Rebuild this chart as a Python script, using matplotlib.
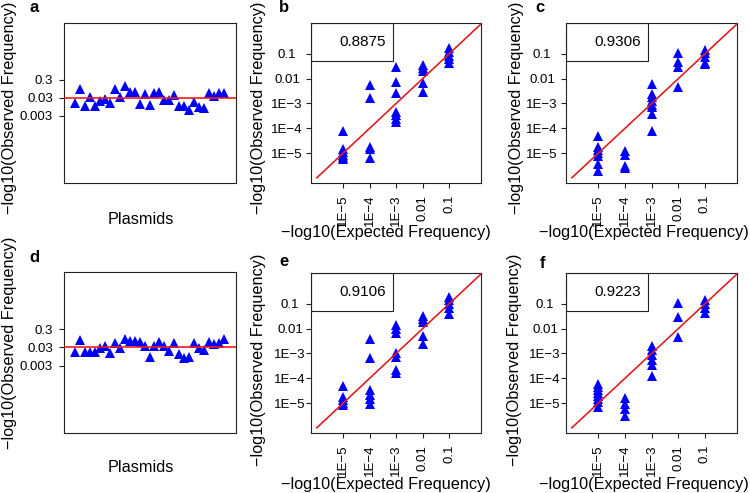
import matplotlib
matplotlib.use("Agg")
import matplotlib.pyplot as plt
from matplotlib.patches import Rectangle
from matplotlib.ticker import NullLocator

plt.rcParams['font.family'] = ['Liberation Sans', 'DejaVu Sans']

MINUS = "\u2212"

# panels a / d: observed frequency per plasmid, expected 0.03
plasmid_expected = 0.03
a_obs = [0.0158, 0.095, 0.0103, 0.034, 0.0103, 0.0196, 0.0275, 0.0158, 0.095, 0.034,
         0.133, 0.065, 0.065, 0.0139, 0.052, 0.0128, 0.057, 0.062, 0.0223, 0.0223,
         0.042, 0.0103, 0.0103, 0.0062, 0.0172, 0.0095, 0.0083, 0.057, 0.037, 0.057, 0.057]
d_obs = [0.0158, 0.080, 0.0158, 0.0158, 0.0158, 0.0275, 0.037, 0.0145, 0.050, 0.0264,
         0.087, 0.070, 0.065, 0.057, 0.037, 0.0091, 0.037, 0.057, 0.034, 0.0196,
         0.050, 0.0128, 0.0074, 0.0083, 0.050, 0.0275, 0.0213, 0.057, 0.046, 0.050, 0.087]
plasmid_ticks = [0.3, 0.03, 0.003]
plasmid_ticklabels = ["0.3", "0.03", "0.003"]

# panels b, c, e, f: observed frequency at each expected level
expected_levels = [1e-5, 1e-4, 1e-3, 0.01, 0.1]
level_labels = ["1E" + MINUS + "5", "1E" + MINUS + "4", "1E" + MINUS + "3", "0.01", "0.1"]
b_obs = [[8e-5, 1.4e-5, 1.1e-5, 8.5e-6, 7e-6, 5.6e-6],
         [5.5e-3, 1.6e-3, 1.8e-5, 1.4e-5, 6.5e-6],
         [0.031, 7.6e-3, 2.6e-3, 4.5e-4, 3.3e-4, 2.4e-4, 1.8e-4],
         [0.036, 0.027, 0.02, 6.5e-3, 3e-3],
         [0.17, 0.12, 0.085, 0.06, 0.042]]
c_obs = [[4.8e-5, 1.8e-5, 1.35e-5, 1.0e-5, 7.5e-6, 3.5e-6, 1.9e-6],
         [1.2e-5, 8.5e-6, 3.0e-6, 2.4e-6],
         [6e-3, 2.4e-3, 1.8e-3, 1.3e-3, 9e-4, 7e-4, 3.8e-4, 8e-5],
         [0.11, 0.048, 0.03, 4.8e-3],
         [0.15, 0.11, 0.075, 0.045, 0.04]]
e_obs = [[5e-5, 1.8e-5, 1.3e-5, 1.0e-5, 8e-6],
         [4e-3, 6.3e-4, 3.3e-5, 2.1e-5, 1.4e-5, 9e-6],
         [0.014, 0.0095, 0.0065, 1.0e-3, 7.5e-4, 2.1e-4, 1.7e-4],
         [0.033, 0.024, 0.019, 5e-3, 2.4e-3],
         [0.2, 0.15, 0.1, 0.068, 0.04]]
f_obs = [[6e-5, 4.5e-5, 3.4e-5, 2.6e-5, 2e-5, 1.5e-5, 1.1e-5, 7e-6],
         [1.6e-5, 9e-6, 5.5e-6, 3e-6],
         [2e-3, 1.4e-3, 8.7e-4, 5.4e-4, 3.4e-4, 1.2e-4],
         [0.11, 0.03, 4.5e-3],
         [0.14, 0.1, 0.07, 0.045]]
corr_values = ["0.8875", "0.9306", "0.9106", "0.9223"]

W, H = 750, 493
fig = plt.figure(figsize=(W / 100, H / 100), dpi=100)

def add_box(x0, y0, x1, y1):
    return fig.add_axes([x0 / W, 1 - y1 / H, (x1 - x0) / W, (y1 - y0) / H])

def style(ax):
    for s in ax.spines.values():
        s.set_linewidth(0.8)
        s.set_color("#222222")
    ax.tick_params(direction="out", length=3.6, width=0.8, labelsize=9.5, color="#222222")
    ax.yaxis.set_minor_locator(NullLocator())
    ax.xaxis.set_minor_locator(NullLocator())

def label_text(ax, box, cx, cy, txt, rot=0):
    x0, y0, x1, y1 = box
    ax.text((cx - x0) / (x1 - x0), (y1 - cy) / (y1 - y0), txt, transform=ax.transAxes,
            ha="center", va="center", rotation=rot, fontsize=11.7)

ylab = MINUS + "log10(Observed Frequency)"
xlab = MINUS + "log10(Expected Frequency)"

# plasmid panels
plasmid_panels = [
    ("a", a_obs, (64, 23, 236, 183), (29, 7), 10, 108, 141, 219),
    ("d", d_obs, (64, 272, 236, 433), (29, 257), 10, 343, 141, 468),
]
for letter, obs, box, lpos, ylx, yly, xlx, xly in plasmid_panels:
    ax = add_box(*box)
    style(ax)
    xs = list(range(1, len(obs) + 1))
    ax.plot(xs, obs, linestyle="none", marker="^", ms=7.2, mew=0, color="blue", zorder=2)
    ax.axhline(plasmid_expected, color="#ee1c1c", lw=1.2, zorder=3)
    ax.set_yscale("log")
    ax.set_ylim(10 ** -6.25, 10 ** 2.64)
    ax.set_xlim(-1.2, len(obs) + 2.4)
    ax.set_yticks(plasmid_ticks)
    ax.set_yticklabels(plasmid_ticklabels)
    ax.yaxis.set_minor_locator(NullLocator())
    ax.set_xticks([])
    ax.tick_params(axis="y", pad=4.3)
    label_text(ax, box, ylx, yly, ylab, rot=90)
    label_text(ax, box, xlx, xly, "Plasmids")
    fig.text(lpos[0] / W, 1 - lpos[1] / H, letter, fontsize=12, fontweight="bold",
             ha="left", va="center")

# expected vs observed panels
# (letter, data, r value, box px, letter px, ylabel x/y px, xlabel x/y px, y tick label centre offset px)
scatter_panels = [
    ("b", b_obs, corr_values[0], (311, 23, 481, 183), (279, 8), 259, 108, 386, 232, 24),
    ("c", c_obs, corr_values[1], (566, 23, 737, 183), (535, 8), 517, 108, 644, 232, 24),
    ("e", e_obs, corr_values[2], (311, 273, 481, 433), (279, 261), 259, 360, 386, 485, 21),
    ("f", f_obs, corr_values[3], (566, 273, 737, 433), (540, 264), 515, 360, 644, 485, 21),
]
for letter, obs, corr, box, lpos, ylx, yly, xlx, xly, yoff in scatter_panels:
    ax = add_box(*box)
    style(ax)
    for level, vals in zip(expected_levels, obs):
        ax.plot([level] * len(vals), vals, linestyle="none", marker="^", ms=7.2, mew=0,
                color="blue", zorder=2)
    ax.set_xscale("log")
    ax.set_yscale("log")
    ax.set_xlim(10 ** -6.22, 10 ** 0.21)
    ax.set_ylim(10 ** -6.21, 10 ** 0.25)
    ax.plot([1e-6, 10 ** 0.6], [1e-6, 10 ** 0.6], color="#dd1f1f", lw=1.2, zorder=3)
    ax.set_xticks(expected_levels)
    ax.set_xticklabels(level_labels, rotation=90)
    ax.set_yticks(expected_levels)
    ax.set_yticklabels(level_labels)
    for t in ax.get_yticklabels():
        t.set_horizontalalignment("center")
    ax.xaxis.set_minor_locator(NullLocator())
    ax.yaxis.set_minor_locator(NullLocator())
    ax.tick_params(axis="y", pad=(yoff - 5) * 0.72)
    ax.tick_params(axis="x", pad=5.0)
    # correlation box, top left
    x0, y0, x1, y1 = box
    bw = 82 / (x1 - x0)
    bh = 38 / (y1 - y0)
    ax.add_patch(Rectangle((0, 1 - bh), bw, bh, transform=ax.transAxes, fill=False,
                           edgecolor="#222222", lw=0.8, zorder=4))
    ax.text(75 / (x1 - x0), 1 - bh / 2, corr, transform=ax.transAxes, ha="right",
            va="center", fontsize=11, zorder=5)
    label_text(ax, box, ylx, yly, ylab, rot=90)
    label_text(ax, box, xlx, xly, xlab)
    fig.text(lpos[0] / W, 1 - lpos[1] / H, letter, fontsize=12, fontweight="bold",
             ha="left", va="center")

fig.savefig("out.png", dpi=100)
plt.close(fig)
